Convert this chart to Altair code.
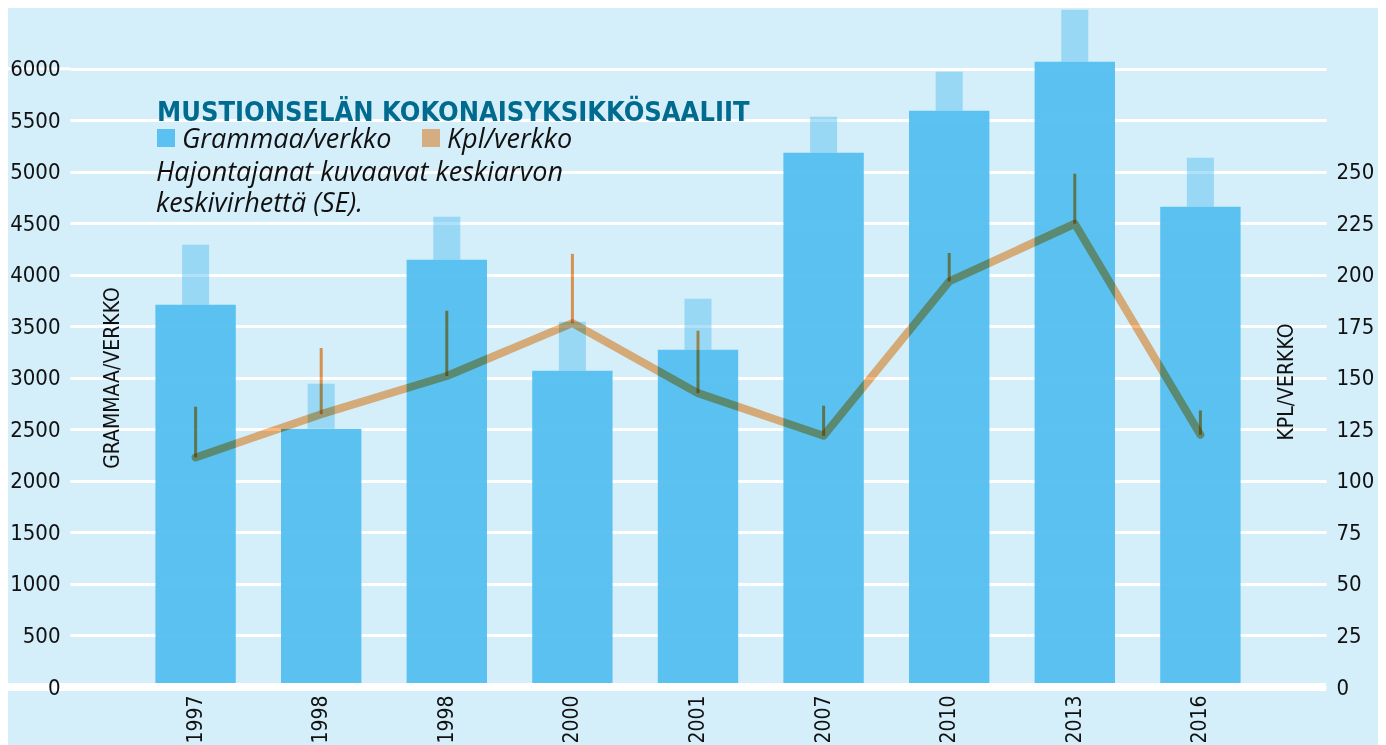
import altair as alt
import pandas as pd

# ---- data ----
years = ["1997", "1998", "1998", "2000", "2001", "2007", "2010", "2013", "2016"]
gram_mean = [3710, 2507, 4147, 3070, 3273, 5185, 5593, 6068, 4661]
gram_se = [582, 436, 417, 475, 495, 349, 378, 505, 475]
kpl_mean = [111.4, 132.4, 150.9, 176.6, 142.6, 121.9, 196.8, 224.8, 122.4]
kpl_se = [24.6, 32.1, 31.7, 33.6, 30.3, 14.6, 13.8, 24.3, 11.8]
left_ticks = list(range(0, 6001, 500))
right_ticks = list(range(0, 301, 25))   # grid positions; labels shown up to 250
right_label_max = 250

title_text = "MUSTIONSELÄN KOKONAISYKSIKKÖSAALIIT"
legend_gram = "Grammaa/verkko"
legend_kpl = "Kpl/verkko"
note_1 = "Hajontajanat kuvaavat keskiarvon"
note_2 = "keskivirhettä (SE)."
left_title = "GRAMMAA/VERKKO"
right_title = "KPL/VERKKO"

keys = [f"{i}_{y}" for i, y in enumerate(years)]
df = pd.DataFrame({
    "key": keys,
    "gram": gram_mean,
    "gram_hi": [m + s for m, s in zip(gram_mean, gram_se)],
    "kpl": kpl_mean,
    "kpl_hi": [m + s for m, s in zip(kpl_mean, kpl_se)],
})
one = pd.DataFrame({"v": [0]})

W, H = 1256, 679
GMAX = 6590
NARROW = "Liberation Sans Narrow, DejaVu Sans Condensed, Roboto"
ITAL = "Open Sans"
BLUE = "#50bdf0"
BG = "#d4eefa"

gscale = alt.Scale(domain=[0, GMAX], nice=False, zero=True)
kscale = alt.Scale(domain=[0, GMAX / 20], nice=False, zero=True)
xscale = alt.Scale(domain=keys, paddingInner=0.36, paddingOuter=0.68)

xaxis = alt.Axis(title=None, labelAngle=-90, labelExpr="split(datum.value,'_')[1]",
                 ticks=False, domain=False, labelFontSize=21, labelPadding=8,
                 labelFont=NARROW, labelColor="#111111", grid=False)
x = alt.X("key:N", scale=xscale, axis=xaxis, sort=keys)

base = alt.Chart(df)

bars = base.mark_bar(color=BLUE, opacity=0.92).encode(
    x=x,
    y=alt.Y("gram:Q", scale=gscale,
            axis=alt.Axis(values=left_ticks, format="d", title=None, grid=False,
                          ticks=False, domain=False, labelFontSize=22, labelFont=NARROW,
                          labelPadding=10, labelColor="#111111", zindex=1)),
)

se_rects = base.mark_bar(color=BLUE, opacity=0.45, size=27).encode(
    x=x,
    y=alt.Y("gram:Q", scale=gscale, axis=None),
    y2="gram_hi:Q",
)

baseline = alt.Chart(one).mark_rule(color="white", strokeWidth=8).encode(
    y=alt.Y("v:Q", scale=gscale, axis=None),
    x=alt.value(-62), x2=alt.value(W),
)
top_grid = alt.Chart(pd.DataFrame({"v": [6000]})).mark_rule(color="white", strokeWidth=3).encode(
    y=alt.Y("v:Q", scale=gscale, axis=None),
    x=alt.value(-62), x2=alt.value(0),
)

line = base.mark_line(color="#ffb67a", strokeWidth=8, blend="multiply",
                      strokeCap="round", strokeJoin="round").encode(
    x=x,
    y=alt.Y("kpl:Q", scale=kscale,
            axis=alt.Axis(orient="right", values=right_ticks, format="d", title=None,
                          labelExpr=f"datum.value <= {right_label_max} ? datum.label : ''",
                          grid=True, gridColor="white", gridWidth=3, gridOpacity=1,
                          ticks=False, domain=False, labelFontSize=22,
                          labelFont=NARROW, labelPadding=10, labelColor="#111111",
                          zindex=0)),
)

err = base.mark_rule(color="#ff9c52", strokeWidth=3, blend="multiply").encode(
    x=x,
    y=alt.Y("kpl:Q", scale=kscale, axis=None),
    y2="kpl_hi:Q",
)

def txt(s, xx, yy, size, font, color="#111111", style="normal", weight="normal",
        angle=0, align="left", baseline="alphabetic"):
    return alt.Chart(one).mark_text(
        align=align, baseline=baseline, font=font, fontSize=size, fontStyle=style,
        fontWeight=weight, color=color, angle=angle
    ).encode(x=alt.value(xx), y=alt.value(yy), text=alt.value(s))

def sq(x0, y0, color):
    return alt.Chart(one).mark_rect(color=color).encode(
        x=alt.value(x0), x2=alt.value(x0 + 18), y=alt.value(y0), y2=alt.value(y0 + 18))

title = txt(title_text, 87, 113, 27, NARROW, color="#006b8f", weight="bold")
sq1 = sq(87, 121, "#5bc1f1")
sq2 = sq(352, 121, "#d4ae80")
lg1 = txt(legend_gram, 112, 140, 27, ITAL, style="italic")
lg2 = txt(legend_kpl, 377, 140, 27, ITAL, style="italic")
n1 = txt(note_1, 86, 173, 27, ITAL, style="italic")
n2 = txt(note_2, 86, 204, 27, ITAL, style="italic")
lt = txt(left_title, 43, 370, 21, NARROW, angle=270, align="center", baseline="middle")
rt = txt(right_title, 1217, 374, 21, NARROW, angle=270, align="center", baseline="middle")

chart = alt.layer(
    bars, se_rects, baseline, top_grid, line, err,
    title, sq1, sq2, lg1, lg2, n1, n2, lt, rt
).resolve_scale(y="independent").properties(
    width=W, height=H,
    autosize=alt.AutoSizeParams(type="none"),
    padding={"left": 62, "top": 0, "right": 52, "bottom": 70},
    background=BG,
).configure_view(stroke=None)

chart.save("out.html", embed_options={"renderer": "svg", "actions": False})
